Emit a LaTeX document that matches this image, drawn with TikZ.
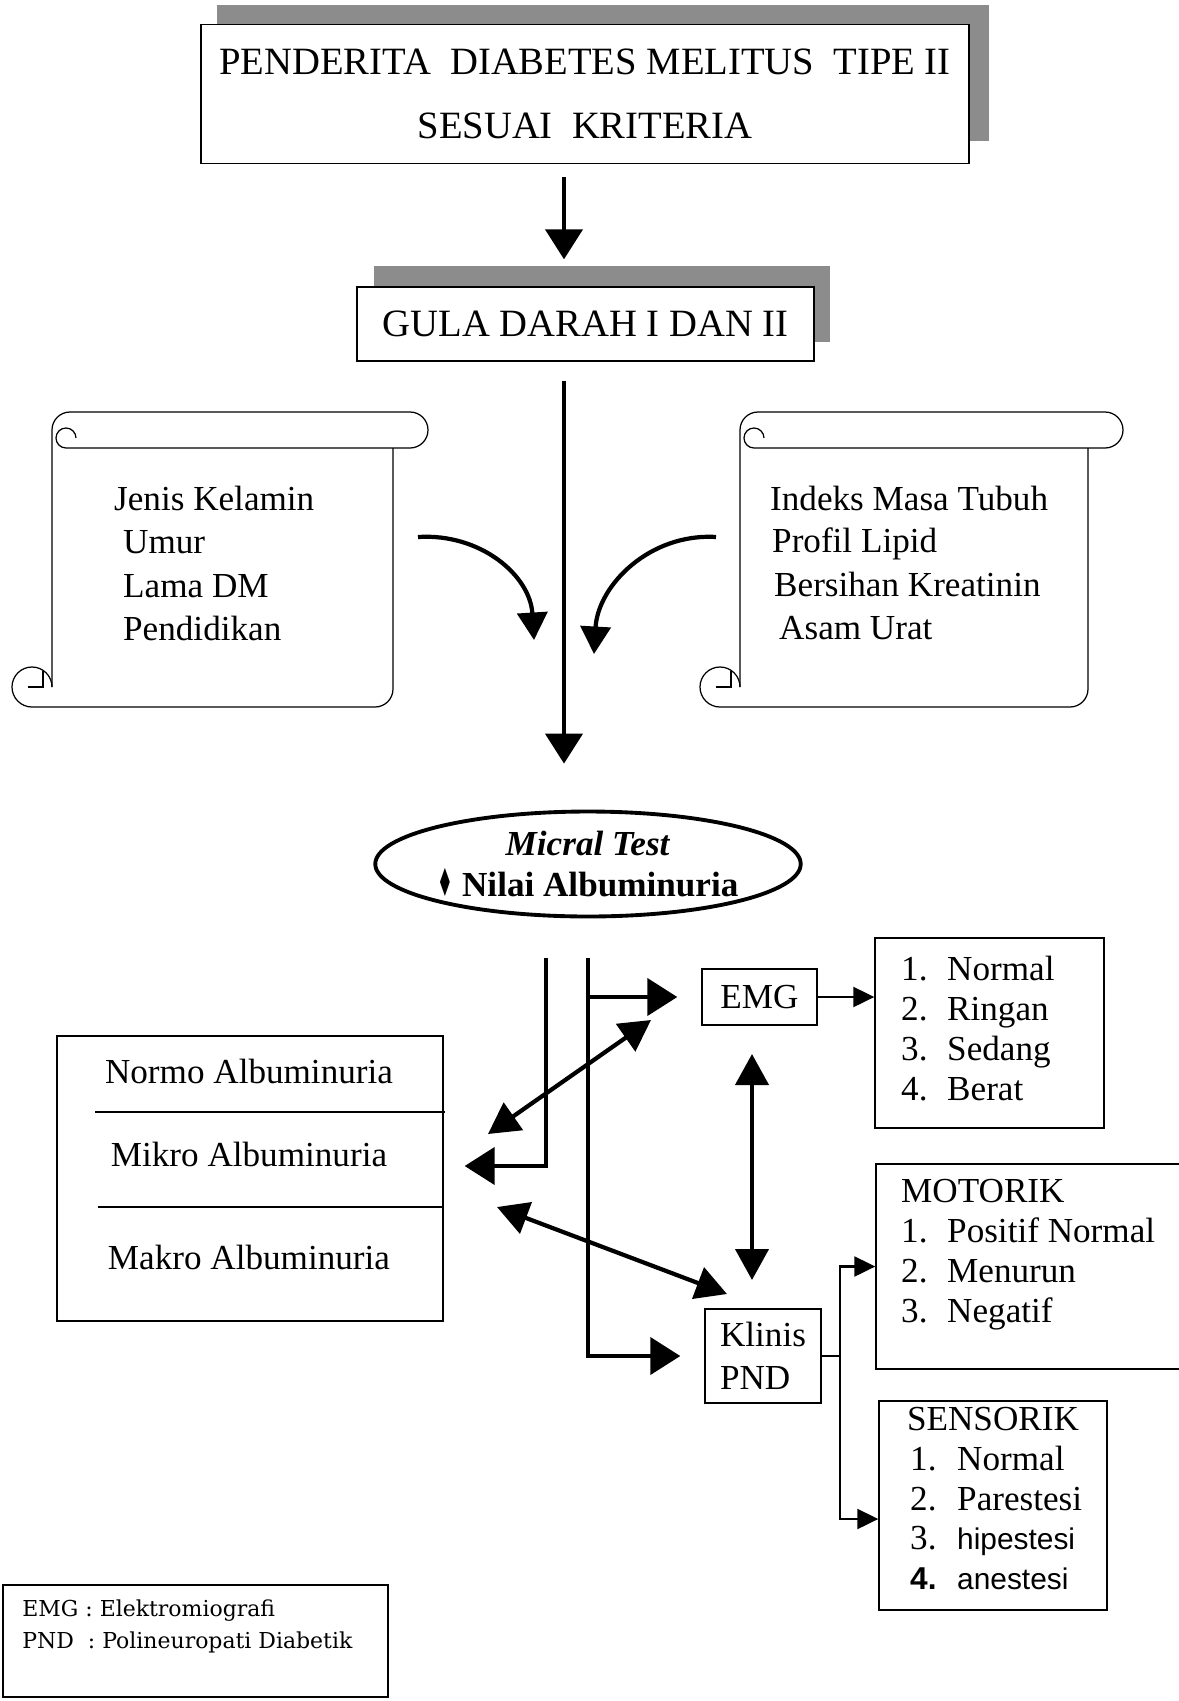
\documentclass[tikz,border=0pt]{standalone}
\usepackage{fontspec}
\setmainfont{Liberation Serif}
\newfontfamily\arialfont{Liberation Sans}
\newfontfamily\legendfont{DejaVu Serif}
\newfontfamily\simbolfont{DejaVu Sans}
\usetikzlibrary{arrows.meta,positioning,calc,shapes.geometric}

\newcommand\gulungan[4]{%
  \draw[gulung] (#1,#4-20) -- (#1,#2+18) arc[start angle=180,end angle=270,radius=18]
    -- (#3+17,#2) arc[start angle=270,end angle=450,radius=18]
    -- (#1+14,#2+36) arc[start angle=90,end angle=360,radius=10];
  \draw[gulung] (#3,#2+36) -- (#3,#4-18) arc[start angle=0,end angle=90,radius=18]
    -- (#1-20,#4) arc[start angle=90,end angle=360,radius=20];
  \draw[gulung] (#1-24,#4-20) -- (#1-9,#4-20) -- (#1-9,#4-36);
}

\begin{document}
\begin{tikzpicture}[
    x=0.02cm,y=-0.02cm,
    kotak/.style={draw,line width=0.8pt,fill=white,inner sep=0pt},
    bayang/.style={fill=black!45},
    teks/.style={font=\fontsize{20}{24.5}\selectfont},
    judul/.style={font=\fontsize{22}{36}\selectfont},
    garis/.style={line width=2.4pt},
    alur/.style={-{Triangle[length=0.6cm,width=0.74cm]},line width=2.4pt},
    dua/.style={{Triangle[length=0.62cm,width=0.66cm]}-{Triangle[length=0.62cm,width=0.66cm]},line width=2.4pt},
    lengkung/.style={-{Triangle[length=0.55cm,width=0.6cm]},line width=2.4pt},
    tipis/.style={-{Triangle[length=0.42cm,width=0.4cm]},line width=1.2pt},
    gulung/.style={line width=0.7pt}
  ]
  \useasboundingbox (0,0) rectangle (1178,1701);
  \fill[white] (0,0) rectangle (1178,1701);

  \fill[bayang] (217,5) rectangle (989,24);
  \fill[bayang] (969,24) rectangle (989,141);
  \node[kotak,judul,align=center,minimum width=15.36cm,minimum height=2.78cm] (pasien)
    at (585,94) {PENDERITA\ \ DIABETES MELITUS\ \ TIPE II\\SESUAI\ \ KRITERIA};

  \fill[bayang] (374,266) rectangle (830,287);
  \fill[bayang] (814,287) rectangle (830,342);
  \node[kotak,judul,minimum width=9.14cm,minimum height=1.48cm] (gula)
    at (585.5,324) {GULA DARAH I DAN II};

  \coordinate (poros) at (564,0);
  \draw[alur,shorten <=0.26cm,shorten >=0.54cm] (pasien.south -| poros) -- (gula.north -| poros);

  \gulungan{52}{412}{393}{707}
  \gulungan{740}{412}{1088}{707}
  \node[teks,anchor=base west] (kelamin) at (108,510) {Jenis Kelamin};
  \node[teks,anchor=base west] (umur) at (117,553) {Umur};
  \node[teks,anchor=base west] (lama) at (117,597) {Lama DM};
  \node[teks,anchor=base west] (didik) at (117,640) {Pendidikan};
  \node[teks,anchor=base west] (imt) at (764,510) {Indeks Masa Tubuh};
  \node[teks,anchor=base west] (lipid) at (766,552) {Profil Lipid};
  \node[teks,anchor=base west] (kreat) at (768,596) {Bersihan Kreatinin};
  \node[teks,anchor=base west] (asam) at (773,639) {Asam Urat};

  \node[draw,ellipse,line width=2.2pt,minimum width=8.36cm,minimum height=2.1cm,inner sep=0pt,
    align=center,font=\fontsize{20}{23.3}\selectfont\bfseries] (micral)
    at (588,864) {\textit{Micral Test}\\{\simbolfont\scalebox{0.5}[1.1]{♦}}\ Nilai Albuminuria};
  \draw[alur,shorten <=0.38cm,shorten >=0.92cm] (gula.south -| poros) -- (micral.north -| poros);

  \coordinate (kiriAwal) at (418,537);
  \coordinate (kiriUjung) at (534,640);
  \coordinate (kananAwal) at (716,537);
  \coordinate (kananUjung) at (594,654);
  \draw[lengkung] (kiriAwal) .. controls (480,533) and (530,575) .. (kiriUjung);
  \draw[lengkung] (kananAwal) .. controls (650,533) and (598,585) .. (kananUjung);

  \node[kotak,minimum width=7.72cm,minimum height=5.7cm] (albu) at (250,1178.5) {};
  \draw[line width=0.8pt] (95,1112) -- (445,1112);
  \draw[line width=0.8pt] (98,1207) -- (443,1207);
  \foreach \t/\yy [count=\i] in {Normo/1083,Mikro/1166,Makro/1269}{
    \node[teks,anchor=base] (alb\i) at (249,\yy) {\t\ Albuminuria};
  }

  \node[kotak,teks,minimum width=2.3cm,minimum height=1.12cm] (emg) at (759.5,997) {EMG};
  \node[kotak,teks,align=left,minimum width=2.32cm,minimum height=1.88cm] (klinis)
    at (763,1356) {Klinis\\PND};
  \node[kotak,minimum width=4.58cm,minimum height=3.8cm] (skala) at (989.5,1033) {};
  \node[kotak,minimum width=6.18cm,minimum height=4.1cm] (motorik) at (1030.5,1266.5) {};
  \node[kotak,minimum width=4.56cm,minimum height=4.18cm] (sensorik) at (993,1505.5) {};

  \foreach \n [count=\i] in {Normal,Ringan,Sedang,Berat}{
    \node[teks,anchor=base west] (emgno\i) at (895,{940+40*\i}) {\i.};
    \node[teks,anchor=base west] (emgisi\i) at (941,{940+40*\i}) {\n};
  }
  \node[teks,anchor=base west] (motorjudul) at (895,1202) {MOTORIK};
  \foreach \n [count=\i] in {Positif Normal,Menurun,Negatif}{
    \node[teks,anchor=base west] (motorno\i) at (895,{1202+40*\i}) {\i.};
    \node[teks,anchor=base west] (motorisi\i) at (941,{1202+40*\i}) {\n};
  }
  \node[teks,anchor=base] (sensorjudul) at (993,1430) {SENSORIK};
  \foreach \n [count=\i] in {Normal,Parestesi}{
    \node[teks,anchor=base west] (sensorno\i) at (904,{1430+40*\i}) {\i.};
    \node[teks,anchor=base west] (sensorisi\i) at (951,{1430+40*\i}) {\n};
  }
  \node[teks,anchor=base west] (sensorno3) at (904,1549) {3.};
  \node[anchor=base west,font=\arialfont\fontsize{17}{20}\selectfont] (sensorisi3) at (951,1549) {hipestesi};
  \node[anchor=base west,font=\arialfont\bfseries\fontsize{18}{20}\selectfont] (sensorno4) at (904,1589) {4.};
  \node[anchor=base west,font=\arialfont\fontsize{17}{20}\selectfont] (sensorisi4) at (951,1589) {anestesi};

  \coordinate (kiri) at (546,958);
  \coordinate (kanan) at (588,958);
  \draw[alur,shorten >=0.42cm] (kiri) |- (albu.east |- alb2.base);
  \draw[alur,shorten >=0.48cm] (kanan) |- (klinis.west);
  \draw[alur,shorten >=0.48cm] (kanan |- emg.west) -- (emg.west);

  \draw[tipis] (emg.east) -- (emg.east -| skala.west);
  \draw[tipis] (klinis.east) -- ++(18,0) |- (motorik.west);
  \draw[tipis] (klinis.east) -- ++(18,0) |- ([yshift=-0.27cm]sensorik.west);

  \coordinate (d1a) at (651,1020);
  \coordinate (d1b) at (488,1134);
  \coordinate (d2a) at (752,1054);
  \coordinate (d2b) at (752,1280);
  \coordinate (d3a) at (497,1207);
  \coordinate (d3b) at (727,1294);
  \draw[dua] (d1a) -- (d1b);
  \draw[dua] (d2a) -- (d2b);
  \draw[dua] (d3a) -- (d3b);

  \node[kotak,minimum width=7.7cm,minimum height=2.24cm] (ket) at (195.5,1641) {};
  \node[anchor=north west,align=left,inner sep=0pt,font=\legendfont\fontsize{12.5}{18.5}\selectfont]
    (kettext) at (22,1599) {EMG : Elektromiografi\\PND\ \ : Polineuropati Diabetik};
\end{tikzpicture}
\end{document}
